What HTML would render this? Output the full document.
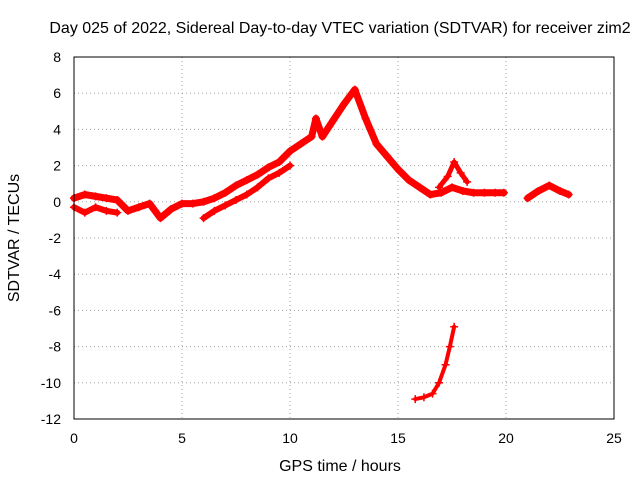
<!DOCTYPE html>
<html><head><meta charset="utf-8"><style>
body{margin:0;background:#fff;}
svg{display:block;font-family:"Liberation Sans",sans-serif;}
</style></head><body>
<svg id="chart" width="640" height="480">
<text x="340" y="33" font-size="16" text-anchor="middle">Day 025 of 2022, Sidereal Day-to-day VTEC variation (SDTVAR) for receiver zim2</text>
<text x="340" y="471" font-size="16" text-anchor="middle">GPS time / hours</text>
<text x="19" y="238" font-size="16" text-anchor="middle" transform="rotate(-90 19 238)">SDTVAR / TECUs</text>
<g id="grid"></g><g id="ticks"></g><g id="marks"></g>
<rect x="74" y="57" width="540" height="362" fill="none" stroke="#000"/>
</svg>
<script>
const xTicks=[0,5,10,15,20,25];
const yTicks=[8,6,4,2,0,-2,-4,-6,-8,-10,-12];
const mainT=[0,0.5,1,1.5,2,2.5,3,3.5,4,4.5,5,5.5,6,6.5,7,7.5,8,8.5,9,9.5,10,10.5,11,11.2,11.5,12,12.5,13,13.5,14,14.5,15,15.5,16,16.5,17,17.5,18,18.5,19,19.5,19.9];
const mainV=[0.2,0.4,0.3,0.2,0.1,-0.5,-0.3,-0.1,-0.9,-0.4,-0.1,-0.1,0,0.2,0.5,0.9,1.2,1.5,1.9,2.2,2.8,3.2,3.6,4.6,3.6,4.5,5.4,6.2,4.6,3.2,2.5,1.8,1.2,0.8,0.4,0.5,0.8,0.6,0.5,0.5,0.5,0.5];
const low1T=[0,0.5,1,1.5,2];
const low1V=[-0.3,-0.6,-0.3,-0.5,-0.6];
const low2T=[6,6.5,7,7.5,8,8.5,9,9.5,10];
const low2V=[-0.9,-0.5,-0.2,0.1,0.4,0.8,1.3,1.6,2.0];
const lateT=[21,21.5,22,22.5,22.9];
const lateV=[0.2,0.6,0.9,0.6,0.4];
const spikeT=[16.9,17.3,17.6,17.9,18.2];
const spikeV=[0.8,1.4,2.2,1.6,1.1];
const dropT=[15.8,16.2,16.6,16.9,17.2,17.4,17.6];
const dropV=[-10.9,-10.8,-10.6,-10.0,-9.0,-8.0,-6.9];
const xs=t=>74+t*21.6, ys=v=>57+(8-v)*18.1;
const NS="http://www.w3.org/2000/svg";
function mk(tag,at,par){const e=document.createElementNS(NS,tag);for(const k in at)e.setAttribute(k,at[k]);document.getElementById(par).appendChild(e);return e;}
xTicks.forEach(t=>{
 const g=mk('line',{x1:xs(t),x2:xs(t),y1:57,y2:419,stroke:'#a0a0a0','stroke-dasharray':'1,3'},'grid');
 
 
 const l=mk('text',{x:xs(t),y:443,'font-size':14,'text-anchor':'middle'},'ticks');l.textContent=t;
 
 
});
yTicks.forEach(v=>{
 const g=mk('line',{x1:74,x2:614,y1:ys(v),y2:ys(v),stroke:'#a0a0a0','stroke-dasharray':'1,3'},'grid');
 
 
 const l=mk('text',{x:61,y:ys(v)+5,'font-size':14,'text-anchor':'end'},'ticks');l.textContent=v;
 
 
});
function series(T,V,name,w){
 const p=mk('polyline',{points:T.map((t,i)=>xs(t)+','+ys(V[i])).join(' '),fill:'none',stroke:'#f00','stroke-width':w,'stroke-linejoin':'round','stroke-linecap':'round'},'marks');
 
 
 T.forEach((t,i)=>{
  const m=mk('path',{d:`M${xs(t)-4},${ys(V[i])}h8M${xs(t)},${ys(V[i])-4}v8`,stroke:'#f00','stroke-width':1.5},'marks');
  
  
 });
}
series(mainT,mainV,'main-series',7);
series(low1T,low1V,'lower-band-early-series',6);
series(low2T,low2V,'lower-band-series',6);
series(lateT,lateV,'late-series',7);
series(spikeT,spikeV,'spike-series',5);
series(dropT,dropV,'negative-series',4);
</script>
</body></html>
